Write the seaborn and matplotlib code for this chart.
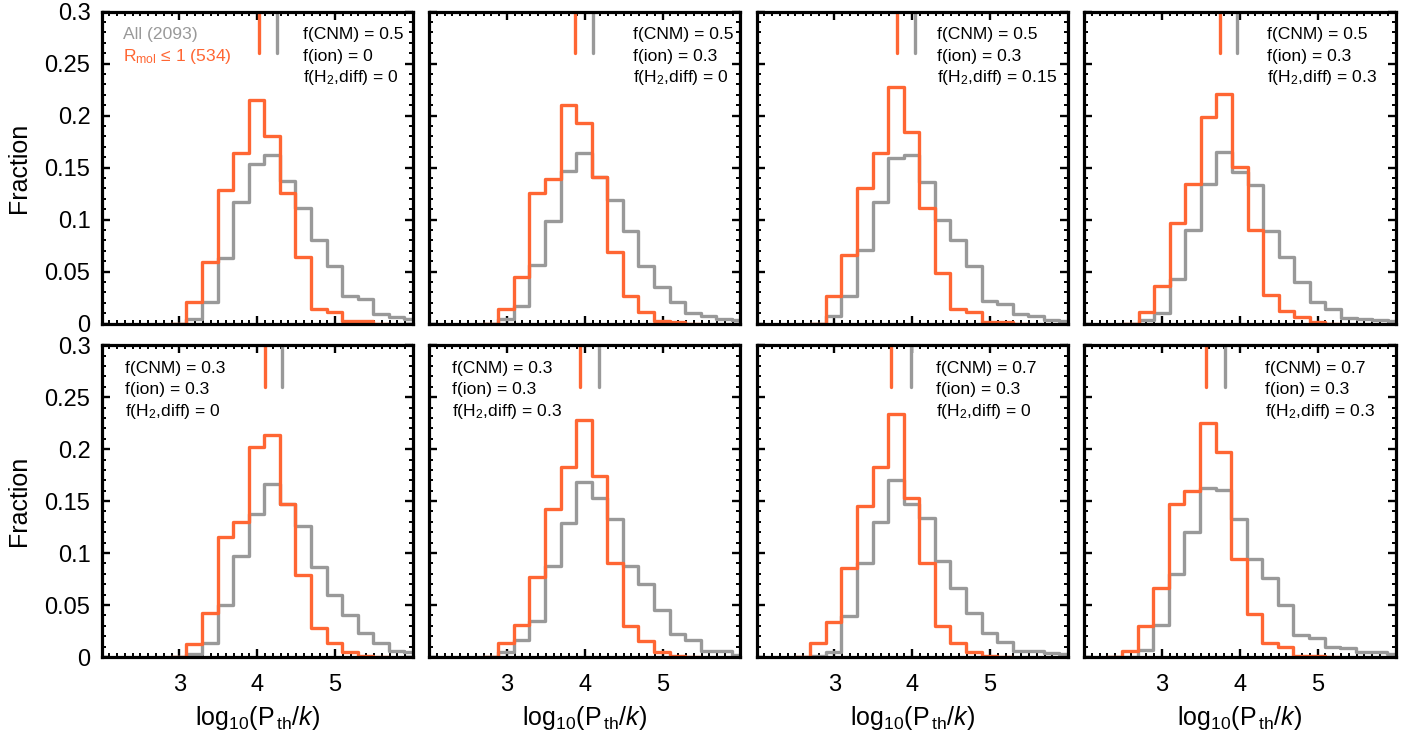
import numpy as np
import pandas as pd
import matplotlib
matplotlib.use("Agg")
import matplotlib.pyplot as plt
import seaborn as sns
from matplotlib.ticker import MultipleLocator, FixedLocator, FixedFormatter

# ---------------- data ----------------
BIN_WIDTH = 0.2
first_edges = [3.09, 2.89, 2.89, 2.70, 3.09, 2.89, 2.69, 2.49]

f_cnm = ["0.5", "0.5", "0.5", "0.5", "0.3", "0.3", "0.7", "0.7"]
f_ion = ["0", "0.3", "0.3", "0.3", "0.3", "0.3", "0.3", "0.3"]
f_h2 = ["0", "0", "0.15", "0.3", "0", "0.3", "0", "0.3"]

# R_mol <= 1 subsample fractions per bin
mol_1 = [0.021, 0.059, 0.128, 0.164, 0.215, 0.180, 0.126, 0.064, 0.014, 0.011, 0.002, 0.002]
mol_2 = [0.014, 0.045, 0.126, 0.139, 0.210, 0.193, 0.141, 0.069, 0.026, 0.011, 0.002, 0.001]
mol_3 = [0.026, 0.066, 0.130, 0.164, 0.228, 0.184, 0.111, 0.049, 0.014, 0.011, 0.001, 0.001]
mol_4 = [0.011, 0.036, 0.097, 0.134, 0.199, 0.221, 0.151, 0.090, 0.027, 0.012, 0.006, 0.001]
mol_5 = [0.0125, 0.042, 0.115, 0.130, 0.202, 0.214, 0.147, 0.079, 0.028, 0.013, 0.0045, 0.001]
mol_6 = [0.013, 0.031, 0.077, 0.142, 0.183, 0.228, 0.174, 0.090, 0.030, 0.015, 0.005, 0.001]
mol_7 = [0.013, 0.034, 0.086, 0.145, 0.183, 0.234, 0.153, 0.090, 0.030, 0.013, 0.005, 0.001]
mol_8 = [0.0054, 0.030, 0.066, 0.147, 0.160, 0.225, 0.197, 0.094, 0.041, 0.013, 0.0096, 0.001, 0.001]

# full sample fractions per bin
all_1 = [0.004, 0.021, 0.063, 0.117, 0.153, 0.162, 0.137, 0.111, 0.080, 0.055, 0.026, 0.024, 0.009, 0.006, 0.004]
all_2 = [0.004, 0.017, 0.056, 0.099, 0.147, 0.164, 0.141, 0.119, 0.089, 0.055, 0.035, 0.021, 0.010, 0.007, 0.004, 0.003]
all_3 = [0.007, 0.026, 0.071, 0.117, 0.159, 0.162, 0.136, 0.100, 0.080, 0.055, 0.022, 0.019, 0.009, 0.007, 0.003, 0.002]
all_4 = [0.003, 0.010, 0.043, 0.090, 0.134, 0.165, 0.146, 0.133, 0.089, 0.064, 0.040, 0.021, 0.014, 0.005, 0.004, 0.003, 0.002]
all_5 = [0.003, 0.013, 0.050, 0.097, 0.138, 0.166, 0.147, 0.126, 0.087, 0.060, 0.040, 0.023, 0.013, 0.0054, 0.0045]
all_6 = [0.0045, 0.016, 0.035, 0.088, 0.129, 0.168, 0.153, 0.133, 0.088, 0.070, 0.045, 0.022, 0.016, 0.0054, 0.0054, 0.002]
all_7 = [0.001, 0.0045, 0.039, 0.090, 0.130, 0.170, 0.147, 0.134, 0.092, 0.066, 0.042, 0.023, 0.014, 0.0054, 0.0054, 0.004, 0.003]
all_8 = [0.0, 0.0064, 0.031, 0.080, 0.120, 0.163, 0.161, 0.133, 0.094, 0.076, 0.050, 0.0215, 0.018, 0.0096, 0.0086, 0.0045, 0.0045, 0.003]

med_mol = [4.02, 3.87, 3.80, 3.74, 4.10, 3.945, 3.73, 3.57]
med_all = [4.25, 4.11, 4.03, 3.97, 4.32, 4.18, 3.98, 3.81]

text_x = [0.647, 0.654, 0.578, 0.589, 0.075, 0.074, 0.575, 0.580]

legend_all = "All (2093)"
legend_mol = r"R$_{\rm mol}$ ≤ 1 (534)"
ytick_vals = [0, 0.05, 0.1, 0.15, 0.2, 0.25, 0.3]
ytick_labels = ["0", "0.05", "0.1", "0.15", "0.2", "0.25", "0.3"]
xtick_vals = [3, 4, 5]
xtick_labels = ["3", "4", "5"]

mol_series = [mol_1, mol_2, mol_3, mol_4, mol_5, mol_6, mol_7, mol_8]
all_series = [all_1, all_2, all_3, all_4, all_5, all_6, all_7, all_8]

# ---------------- style ----------------
ORANGE = "#FF6633"
GRAY = "#999999"
sns.set_style("ticks")
plt.rcParams["font.family"] = ["Liberation Sans", "DejaVu Sans"]
plt.rcParams["mathtext.fontset"] = "custom"
plt.rcParams["mathtext.rm"] = "Liberation Sans"
plt.rcParams["mathtext.it"] = "Liberation Sans:italic"
plt.rcParams["mathtext.default"] = "regular"
for key in ["axes.edgecolor", "xtick.color", "ytick.color", "text.color",
            "axes.labelcolor", "xtick.labelcolor", "ytick.labelcolor"]:
    plt.rcParams[key] = "black"

fig = plt.figure(figsize=(14.25, 7.36), dpi=100)
W, H = 1425.0, 736.0
col_left = [101.5, 429.0, 756.5, 1084.0]
row_top = [11.7, 345.2]
aw, ah = 311.5, 311.8


def hist_frame(vals, e0):
    vals = [0.0] + list(vals) + [0.0]
    edges = e0 - BIN_WIDTH + BIN_WIDTH * np.arange(len(vals) + 1)
    centers = edges[:-1] + BIN_WIDTH / 2
    return pd.DataFrame({"x": centers, "w": vals}), [float(e) for e in edges]


for i in range(8):
    r, c = divmod(i, 4)
    ax = fig.add_axes([col_left[c] / W, 1 - (row_top[r] + ah) / H, aw / W, ah / H])
    df_all, e_all = hist_frame(all_series[i], first_edges[i])
    df_mol, e_mol = hist_frame(mol_series[i], first_edges[i])
    sns.histplot(data=df_all, x="x", weights="w", bins=e_all, element="step",
                 fill=False, color=GRAY, linewidth=2.4, ax=ax)
    sns.histplot(data=df_mol, x="x", weights="w", bins=e_mol, element="step",
                 fill=False, color=ORANGE, linewidth=2.4, ax=ax)
    ax.axvline(med_all[i], ymin=0.867, ymax=1.0, color=GRAY, lw=2.4)
    ax.axvline(med_mol[i], ymin=0.867, ymax=1.0, color=ORANGE, lw=2.4)

    ax.set_xlim(2, 6)
    ax.set_ylim(0, 0.3)
    ax.xaxis.set_major_locator(FixedLocator(xtick_vals))
    ax.xaxis.set_minor_locator(MultipleLocator(0.1))
    ax.yaxis.set_major_locator(FixedLocator(ytick_vals))
    ax.yaxis.set_minor_locator(MultipleLocator(0.01))
    ax.tick_params(which="both", direction="in", top=True, right=True, color="black")
    ax.tick_params(which="major", length=6, width=1.7)
    ax.tick_params(which="minor", length=3, width=1.4)
    ax.tick_params(axis="x", which="major", pad=12, labelsize=17)
    ax.tick_params(axis="y", which="major", pad=8, labelsize=17)
    for s in ax.spines.values():
        s.set_linewidth(2.3)
        s.set_color("black")
        s.set_zorder(3)

    if c == 0:
        ax.yaxis.set_major_formatter(FixedFormatter(ytick_labels))
        ax.set_ylabel("Fraction", fontsize=18, labelpad=10)
    else:
        ax.set_yticklabels([])
        ax.set_ylabel("")
    if r == 1:
        ax.xaxis.set_major_formatter(FixedFormatter(xtick_labels))
        ax.set_xlabel(r"log$_{10}$(P$_{\,\rm th}$/$\mathit{k}$)", fontsize=18, labelpad=6)
    else:
        ax.set_xticklabels([])
        ax.set_xlabel("")

    lines = [f"f(CNM) = {f_cnm[i]}", f"f(ion) = {f_ion[i]}", f"f(H$_2$,diff) = {f_h2[i]}"]
    for k, t in enumerate(lines):
        ax.text(text_x[i], 0.912 - 0.069 * k, t, transform=ax.transAxes,
                fontsize=12.6, ha="left", va="baseline", color="black")
    if i == 0:
        ax.text(0.07, 0.912, legend_all, transform=ax.transAxes, fontsize=12.6,
                ha="left", va="baseline", color=GRAY)
        ax.text(0.07, 0.843, legend_mol, transform=ax.transAxes, fontsize=12.6,
                ha="left", va="baseline", color=ORANGE)

fig.savefig("out.png", dpi=100)
